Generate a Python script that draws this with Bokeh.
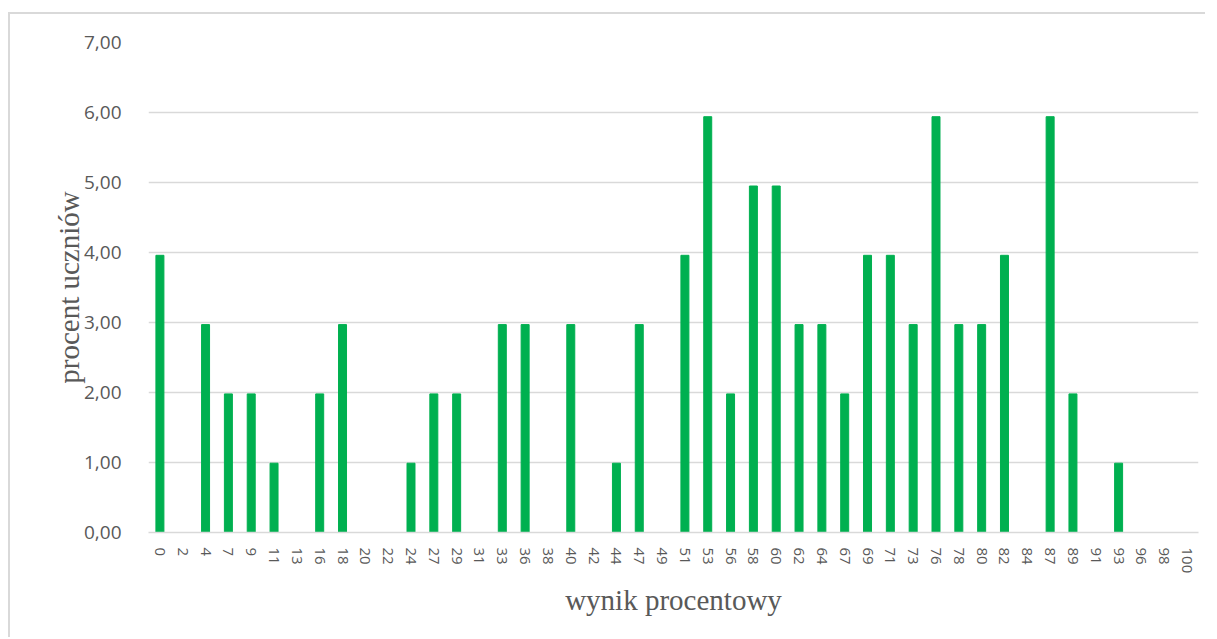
from bokeh.plotting import figure
from bokeh.models import ColumnDataSource, FactorRange, Range1d, CustomJSTickFormatter, FixedTicker
from bokeh.embed import file_html
from bokeh.resources import INLINE

categories = ["0", "2", "4", "7", "9", "11", "13", "16", "18", "20", "22", "24", "27", "29", "31",
              "33", "36", "38", "40", "42", "44", "47", "49", "51", "53", "56", "58", "60", "62",
              "64", "67", "69", "71", "73", "76", "78", "80", "82", "84", "87", "89", "91", "93",
              "96", "98", "100"]
values = [3.96, 0, 2.97, 1.98, 1.98, 0.99, 0, 1.98, 2.97, 0, 0, 0.99, 1.98, 1.98, 0,
          2.97, 2.97, 0, 2.97, 0, 0.99, 2.97, 0, 3.96, 5.94, 1.98, 4.95, 4.95, 2.97,
          2.97, 1.98, 3.96, 3.96, 2.97, 5.94, 2.97, 2.97, 3.96, 0, 5.94, 1.98, 0, 0.99,
          0, 0, 0]
y_ticks = [0, 1, 2, 3, 4, 5, 6, 7]

source = ColumnDataSource(data=dict(cat=categories, val=values))

p = figure(x_range=FactorRange(*categories, range_padding=0), y_range=Range1d(0, 7),
           width=1197, height=625, output_backend="svg", toolbar_location=None,
           min_border_left=138, min_border_right=9, min_border_top=28, min_border_bottom=107)
p.styles = {"border-left": "2px solid #d9d9d9", "border-top": "2px solid #d9d9d9",
            "margin-left": "8px", "margin-top": "12px"}

p.vbar(x="cat", top="val", width=0.35, source=source, color="#00B050")

p.outline_line_color = None
p.xgrid.grid_line_color = None
p.ygrid.grid_line_color = "#d9d9d9"
p.ygrid.grid_line_width = 1.5
p.yaxis.ticker = FixedTicker(ticks=y_ticks)
p.yaxis.formatter = CustomJSTickFormatter(code="return tick.toFixed(2).replace('.', ',');")
p.yaxis.axis_line_color = None
p.yaxis.major_tick_line_color = None
p.yaxis.minor_tick_line_color = None
p.yaxis.major_label_text_font = "Open Sans"
p.yaxis.major_label_text_font_size = "19px"
p.yaxis.major_label_text_color = "#595959"
p.yaxis.major_label_standoff = 21
p.yaxis.axis_label = "procent uczniów"
p.yaxis.axis_label_text_font = "Liberation Serif"
p.yaxis.axis_label_text_font_style = "normal"
p.yaxis.axis_label_text_font_size = "29px"
p.yaxis.axis_label_text_color = "#595959"
p.yaxis.axis_label_standoff = -4

p.xaxis.axis_line_color = "#d9d9d9"
p.xaxis.axis_line_width = 1.5
p.xaxis.major_tick_line_color = None
p.xaxis.minor_tick_line_color = None
p.xaxis.major_label_orientation = "vertical"
p.xaxis.major_label_text_font = "Open Sans"
p.xaxis.major_label_text_font_size = "15px"
p.xaxis.major_label_text_color = "#595959"
p.xaxis.major_label_standoff = 9
p.xaxis.axis_label = "wynik procentowy"
p.xaxis.axis_label_text_font = "Liberation Serif"
p.xaxis.axis_label_text_font_style = "normal"
p.xaxis.axis_label_text_font_size = "29px"
p.xaxis.axis_label_text_color = "#595959"
p.xaxis.axis_label_standoff = 8

open("out.html", "w").write(file_html(p, INLINE))
